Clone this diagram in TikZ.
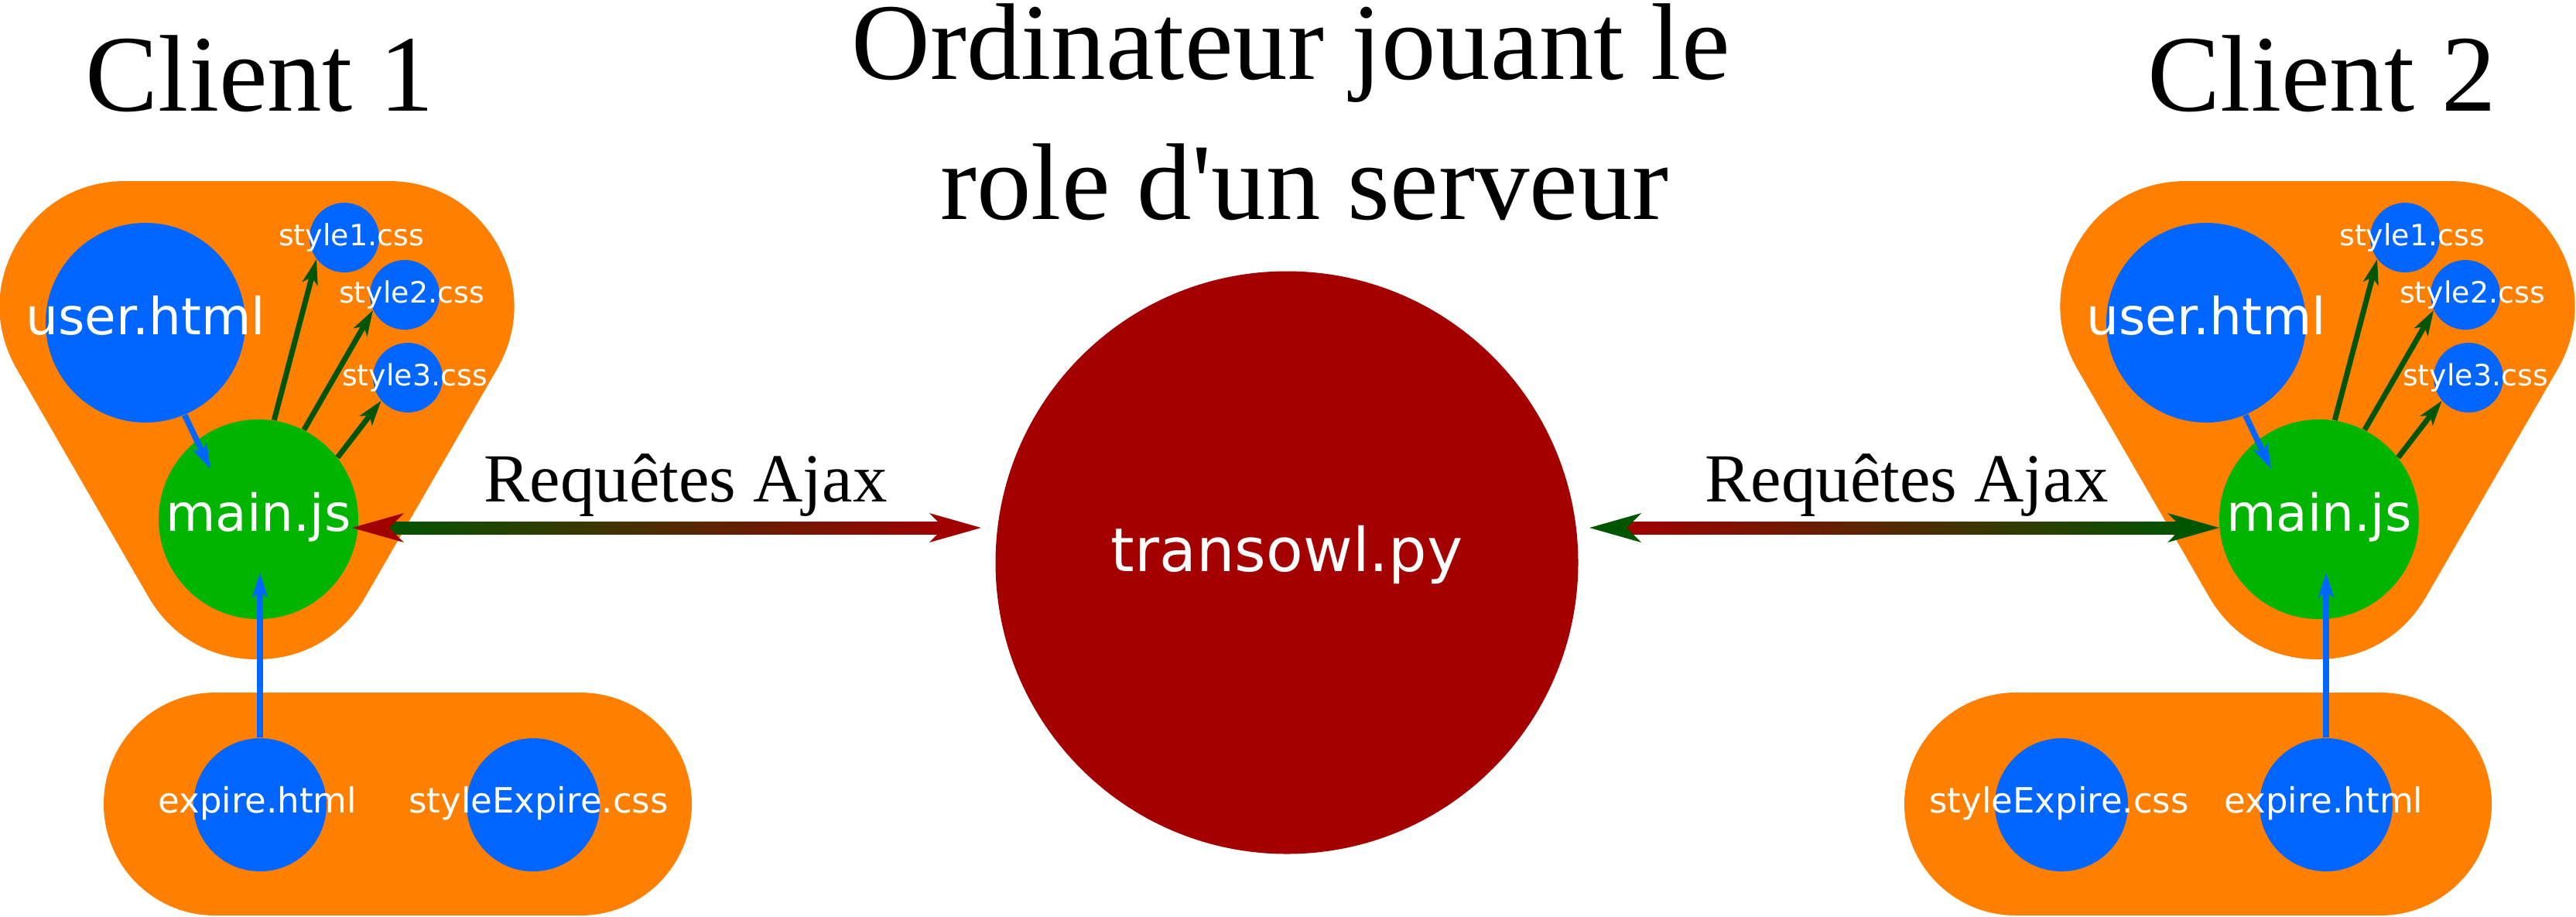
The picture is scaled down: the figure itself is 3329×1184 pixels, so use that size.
\documentclass[tikz,border=0pt]{standalone}
\usepackage{fontspec}
\newfontfamily\dejavu{DejaVu Sans}
\newfontfamily\tnr{Liberation Serif}
\usetikzlibrary{arrows.meta,calc}
\definecolor{orng}{HTML}{FF7F00}
\definecolor{fblue}{HTML}{0066FF}
\definecolor{jsgreen}{HTML}{00B400}
\definecolor{dgreen}{HTML}{005500}
\definecolor{dred}{HTML}{A00000}
\definecolor{srvred}{HTML}{A50000}
\begin{document}
\begin{tikzpicture}[x=0.1mm,y=-0.1mm,
  blob/.style={draw=orng, fill=orng, line width=32.4mm, line join=round},
  pill/.style={fill=orng, rounded corners=14.4mm},
  fileball/.style={circle, fill=fblue, draw=none, inner sep=0pt, minimum size=#1},
  jsball/.style={circle, fill=jsgreen, draw=none, inner sep=0pt, minimum size=25.8mm},
  srvball/.style={circle, fill=srvred, draw=none, inner sep=0pt, minimum size=75.3mm},
  lbl/.style={text=white, inner sep=0pt},
  fA/.style={font=\dejavu\fontsize{10.8pt}{12pt}\selectfont, text height=2.9mm, text depth=0.9mm},
  fB/.style={font=\dejavu\fontsize{12.8pt}{14pt}\selectfont, text height=3.4mm, text depth=1.4mm},
  fC/.style={font=\dejavu\fontsize{18.8pt}{20pt}\selectfont, text height=5.0mm, text depth=2.0mm},
  fD/.style={font=\dejavu\fontsize{22.2pt}{24pt}\selectfont, text height=5.0mm, text depth=2.7mm},
  bigtitle/.style={font=\tnr\fontsize{40.1pt}{48pt}\selectfont, anchor=base, inner sep=0pt},
  ajax/.style={font=\tnr\fontsize{25.3pt}{30pt}\selectfont, anchor=base, inner sep=0pt},
  tipthin/.style={-{Stealth[length=3.3mm,width=2.1mm,inset=0.9mm,line width=0pt]}},
  bluearr/.style={draw=fblue, line width=0.75mm, tipthin},
  greenarr/.style={draw=dgreen, line width=0.7mm, tipthin},
  bigtip/.style={-{Stealth[length=6.7mm,width=3.8mm,inset=1.9mm,line width=0pt]}, line width=0.1mm},
]
\useasboundingbox (0,0) rectangle (3329,1184);

% orange backgrounds
\draw[blob] (162,396) -- (502,396) -- (332,690) -- cycle;
\draw[blob] (2825,396) -- (3165,396) -- (2995,690) -- cycle;
\fill[pill] (134,895) rectangle (894,1183);
\fill[pill] (2461,895) rectangle (3220,1183);

% titles
\node[bigtitle] (cl1) at (336,143) {Client 1};
\node[bigtitle] (cl2) at (3001,143) {Client 2};
\node[bigtitle] (tt1) at (1668,102) {Ordinateur jouant le};
\node[bigtitle] (tt2) at (1686,283) {role d'un serveur};

% client 1
\node[fileball=25.8mm, label={[lbl,fC]center:user.html}] (user1) at (188,417) {};
\node[jsball, label={[lbl,fC]center:main.js}] (main1) at (334,671) {};
\node[fileball=9mm, label={[lbl,fA,xshift=0.9mm]center:style1.css}] (sa1) at (445,307) {};
\node[fileball=9mm, label={[lbl,fA,xshift=0.9mm]center:style2.css}] (sb1) at (523,381) {};
\node[fileball=9mm, label={[lbl,fA,xshift=0.9mm]center:style3.css}] (sc1) at (527,488) {};
\node[fileball=17.2mm, label={[lbl,fB,xshift=-0.3mm]center:expire.html}] (exp1) at (336,1040) {};
\node[fileball=17.2mm, label={[lbl,fB,xshift=0.7mm]center:styleExpire.css}] (sexp1) at (689,1040) {};

% client 2
\node[fileball=25.8mm, label={[lbl,fC]center:user.html}] (user2) at (2851,417) {};
\node[jsball, label={[lbl,fC]center:main.js}] (main2) at (2997,671) {};
\node[fileball=9mm, label={[lbl,fA,xshift=0.9mm]center:style1.css}] (sa2) at (3108,307) {};
\node[fileball=9mm, label={[lbl,fA,xshift=0.9mm]center:style2.css}] (sb2) at (3186,381) {};
\node[fileball=9mm, label={[lbl,fA,xshift=0.9mm]center:style3.css}] (sc2) at (3190,488) {};
\node[fileball=17.2mm, label={[lbl,fB,xshift=-0.3mm]center:expire.html}] (exp2) at (3006,1040) {};
\node[fileball=17.2mm, label={[lbl,fB,xshift=-0.3mm]center:styleExpire.css}] (sexp2) at (2664,1040) {};

% server
\node[srvball, label={[lbl,fD]center:transowl.py}] (srv) at (1663,727) {};

% arrows client 1
\draw[bluearr] (user1.293) -- ($(main1.center)+(-62,-65)$);
\coordinate (t1) at ($(main1.center)+(0,69)$);
\draw[bluearr] (exp1.north) -- (exp1.north |- t1);
\draw[greenarr] (main1.81) -- (sa1.218);
\draw[greenarr] (main1.63) -- (sb1.206);
\draw[greenarr] (main1.38) -- (sc1.221);

% arrows client 2
\draw[bluearr] (user2.293) -- ($(main2.center)+(-62,-65)$);
\coordinate (t2) at ($(main2.center)+(0,69)$);
\draw[bluearr] (exp2.north) -- (exp2.north |- t2);
\draw[greenarr] (main2.81) -- (sa2.218);
\draw[greenarr] (main2.63) -- (sb2.206);
\draw[greenarr] (main2.38) -- (sc2.221);

% Ajax double arrows
\coordinate (a1) at ($(main1.center)+(121,11)$);
\coordinate (b1) at ($(a1 -| srv.west)+(-18,0)$);
\shade[left color=dgreen, right color=dred] ($(a1)+(40,-8)$) rectangle ($(b1)+(-40,8)$);
\draw[dred, bigtip] ($(a1)+(30,0)$) -- (a1);
\draw[dred, bigtip] ($(b1)+(-30,0)$) -- (b1);

\coordinate (b2) at ($(main2.center)+(-129,11)$);
\coordinate (a2) at ($(b2 -| srv.east)+(14,0)$);
\shade[left color=dred, right color=dgreen] ($(a2)+(40,-8)$) rectangle ($(b2)+(-40,8)$);
\draw[dgreen, bigtip] ($(a2)+(30,0)$) -- (a2);
\draw[dgreen, bigtip] ($(b2)+(-30,0)$) -- (b2);

\node[ajax] (aj1) at (886,648) {Requêtes Ajax};
\node[ajax] (aj2) at (2464,648) {Requêtes Ajax};
\end{tikzpicture}
\end{document}
